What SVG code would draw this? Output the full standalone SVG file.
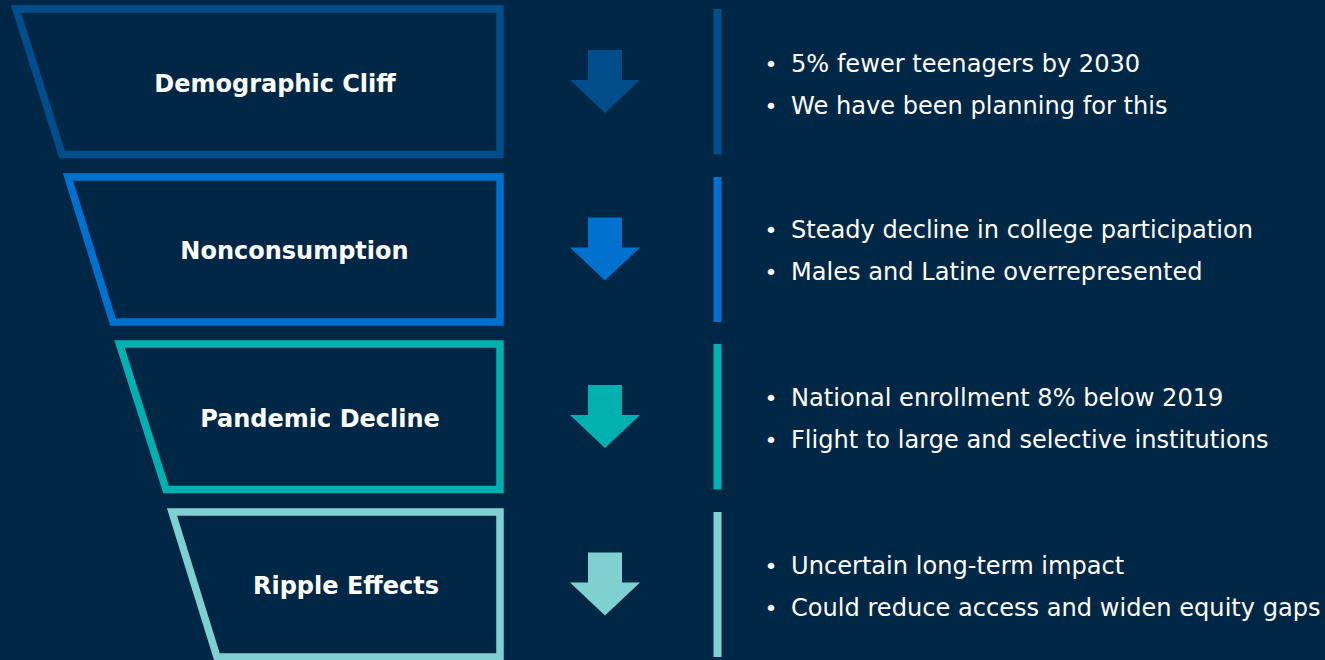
<svg xmlns="http://www.w3.org/2000/svg" width="1325" height="660" viewBox="0 0 1325 660">
<style>
.bg{fill:#002846}
.stage{fill:#002846;stroke-width:7.5;stroke-linejoin:miter}
.lbl{font-family:"DejaVu Sans","Verdana",sans-serif;font-weight:bold;font-size:24px;fill:#ffffff;text-anchor:middle}
.txt{font-family:"DejaVu Sans","Verdana",sans-serif;font-size:24.1px;fill:#ffffff}
.bul{font-family:"DejaVu Sans","Verdana",sans-serif;font-size:22px;fill:#ffffff}
.c1{fill:#024d8c}
.c2{fill:#0071cf}
.c3{fill:#00b1af}
.c4{fill:#7fd0d0}
</style>
<defs>
<path id="arrow" d="M588,50 H622 V80 H640 L605,113 L570,80 H588 Z"/>
</defs>
<rect class="bg" x="0" y="0" width="1325" height="660"/>

<g id="stage-1">
<polygon class="stage" style="stroke:#024d8c" points="16,9 500,9 500,154.5 62,154.5"/>
<text class="lbl" x="275" y="92">Demographic Cliff</text>
</g>
<g id="stage-2">
<polygon class="stage" style="stroke:#0071cf" points="68,177 500,177 500,322 113,322"/>
<text class="lbl" x="294.5" y="259">Nonconsumption</text>
</g>
<g id="stage-3">
<polygon class="stage" style="stroke:#00b1af" points="119.5,344 500,344 500,489.5 166,489.5"/>
<text class="lbl" x="320" y="427">Pandemic Decline</text>
</g>
<g id="stage-4">
<polygon class="stage" style="stroke:#7fd0d0" points="172,512 500,512 500,657 217,657"/>
<text class="lbl" x="346" y="594">Ripple Effects</text>
</g>

<g id="connectors">
<use href="#arrow" class="c1"/>
<use href="#arrow" class="c2" transform="translate(0,167.5)"/>
<use href="#arrow" class="c3" transform="translate(0,335)"/>
<use href="#arrow" class="c4" transform="translate(0,502.5)"/>
<rect class="c1" x="713.5" y="9" width="8" height="145.5"/>
<rect class="c2" x="713.5" y="177" width="8" height="145"/>
<rect class="c3" x="713.5" y="344" width="8" height="145.5"/>
<rect class="c4" x="713.5" y="512" width="8" height="145"/>
</g>

<g id="notes-1">
<text class="bul" x="764.5" y="72">•</text><text class="txt" x="791" y="72">5% fewer teenagers by 2030</text>
<text class="bul" x="764.5" y="114">•</text><text class="txt" x="791" y="114">We have been planning for this</text>
</g>
<g id="notes-2">
<text class="bul" x="764.5" y="237.5">•</text><text class="txt" x="791" y="237.5">Steady decline in college participation</text>
<text class="bul" x="764.5" y="279.5">•</text><text class="txt" x="791" y="279.5">Males and Latine overrepresented</text>
</g>
<g id="notes-3">
<text class="bul" x="764.5" y="405.5">•</text><text class="txt" x="791" y="405.5">National enrollment 8% below 2019</text>
<text class="bul" x="764.5" y="447.5">•</text><text class="txt" x="791" y="447.5">Flight to large and selective institutions</text>
</g>
<g id="notes-4">
<text class="bul" x="764.5" y="573.5">•</text><text class="txt" x="791" y="573.5">Uncertain long-term impact</text>
<text class="bul" x="764.5" y="615.5">•</text><text class="txt" x="791" y="615.5">Could reduce access and widen equity gaps</text>
</g>
</svg>
